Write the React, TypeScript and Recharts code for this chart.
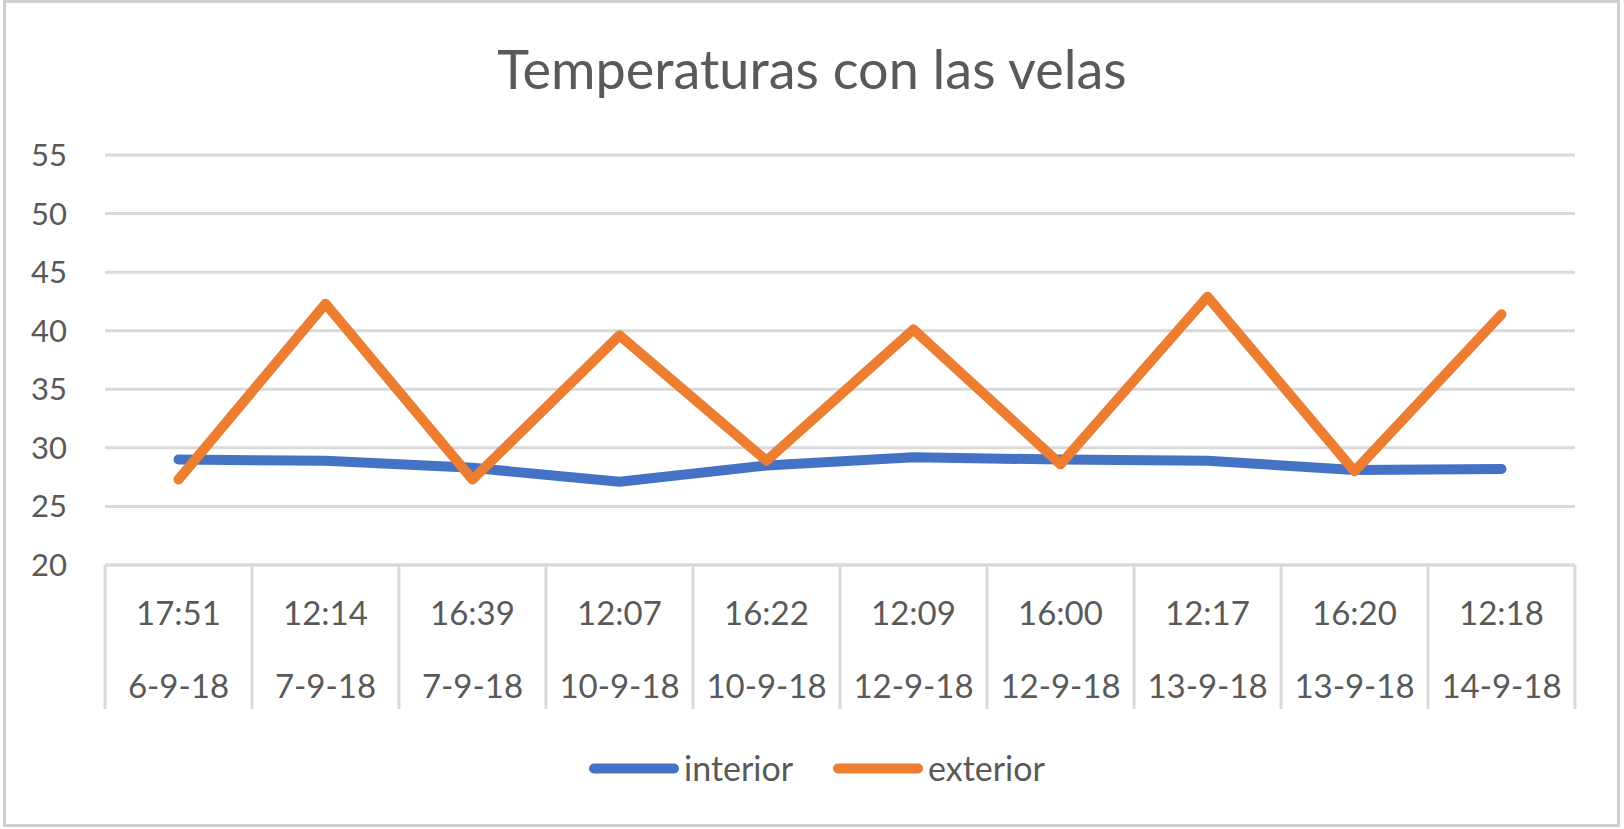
import { LineChart, Line, XAxis, YAxis, CartesianGrid, Legend } from "recharts";

const TIMES = ["17:51", "12:14", "16:39", "12:07", "16:22", "12:09", "16:00", "12:17", "16:20", "12:18"];
const DATES = ["6-9-18", "7-9-18", "7-9-18", "10-9-18", "10-9-18", "12-9-18", "12-9-18", "13-9-18", "13-9-18", "14-9-18"];
const INTERIOR = [29.0, 28.9, 28.3, 27.1, 28.5, 29.2, 29.0, 28.9, 28.1, 28.2];
const EXTERIOR = [27.3, 42.3, 27.3, 39.6, 28.9, 40.1, 28.6, 42.9, 28.0, 41.4];
const Y_TICKS = [20, 25, 30, 35, 40, 45, 50, 55];

const W = 1624;
const H = 829;
const PLOT_LEFT = 105;
const PLOT_RIGHT = 1575;
const FONT = "Lato, 'Open Sans', sans-serif";
const TEXT = "#595959";
const GRID = "#d9d9d9";
const BLUE = "#4472C4";
const ORANGE = "#ED7D31";

const data = TIMES.map((time, i) => ({
  time,
  date: DATES[i],
  interior: INTERIOR[i],
  exterior: EXTERIOR[i],
}));

const half = (PLOT_RIGHT - PLOT_LEFT) / TIMES.length / 2;

function CategoryTick(props: any) {
  const { x, y, index } = props;
  const last = index === TIMES.length - 1;
  return (
    <g>
      <line x1={x - half} x2={x - half} y1={y} y2={y + 144} stroke={GRID} strokeWidth={3} />
      {last && <line x1={x + half} x2={x + half} y1={y} y2={y + 144} stroke={GRID} strokeWidth={3} />}
      <text x={x} y={y + 60} textAnchor="middle" fill={TEXT} fontSize={33} fontFamily={FONT}>
        {TIMES[index]}
      </text>
      <text x={x} y={y + 133} textAnchor="middle" fill={TEXT} fontSize={33} fontFamily={FONT}>
        {DATES[index]}
      </text>
    </g>
  );
}

function LegendContent() {
  const items = [
    { name: "interior", color: BLUE, left: 589 },
    { name: "exterior", color: ORANGE, left: 833 },
  ];
  return (
    <div style={{ position: "relative", height: 40 }}>
      {items.map((it) => (
        <div
          key={it.name}
          style={{
            position: "absolute",
            left: it.left,
            top: 0,
            height: 40,
            display: "flex",
            alignItems: "center",
          }}
        >
          <svg width={90} height={11} style={{ display: "block" }}>
            <line x1={5} x2={85} y1={5.5} y2={5.5} stroke={it.color} strokeWidth={10} strokeLinecap="round" />
          </svg>
          <span style={{ marginLeft: 5, fontFamily: FONT, fontSize: 34, color: TEXT, lineHeight: "40px" }}>
            {it.name}
          </span>
        </div>
      ))}
    </div>
  );
}

export default function App() {
  return (
    <div
      style={{
        position: "fixed",
        left: 0,
        top: 0,
        width: W,
        height: H,
        background: "#fff",
      }}
    >
      <LineChart
        width={W}
        height={H}
        data={data}
        margin={{ top: 155, right: W - PLOT_RIGHT, bottom: 0, left: 0 }}
        style={{ fontFamily: FONT }}
      >
        <CartesianGrid vertical={false} stroke={GRID} strokeWidth={3} />
        <XAxis
          dataKey="time"
          scale="band"
          height={264}
          interval={0}
          tickLine={false}
          tickSize={0}
          tickMargin={0}
          axisLine={{ stroke: GRID, strokeWidth: 3 }}
          tick={<CategoryTick />}
        />
        <YAxis
          width={PLOT_LEFT}
          domain={[20, 55]}
          ticks={Y_TICKS}
          interval={0}
          axisLine={false}
          tickLine={false}
          tickSize={0}
          tickMargin={38}
          tick={{ fill: TEXT, fontSize: 31, fontFamily: FONT }}
        />
        <Legend
          layout="horizontal"
          verticalAlign="middle"
          content={<LegendContent />}
          wrapperStyle={{ top: 748, left: 0, width: W, height: 40 }}
        />
        <Line
          type="linear"
          dataKey="interior"
          name="interior"
          stroke={BLUE}
          strokeWidth={10}
          strokeLinecap="round"
          strokeLinejoin="round"
          dot={false}
          activeDot={false}
          isAnimationActive={false}
        />
        <Line
          type="linear"
          dataKey="exterior"
          name="exterior"
          stroke={ORANGE}
          strokeWidth={10}
          strokeLinecap="round"
          strokeLinejoin="round"
          dot={false}
          activeDot={false}
          isAnimationActive={false}
        />
      </LineChart>
      <svg
        width={W}
        height={H}
        style={{ position: "absolute", left: 0, top: 0, pointerEvents: "none" }}
      >
        <rect x={4.5} y={1.5} width={1614} height={824} fill="none" stroke="#d0d0d0" strokeWidth={3} />
        <text x={812} y={89} textAnchor="middle" fill={TEXT} fontSize={54} fontFamily={FONT}>
          Temperaturas con las velas
        </text>
      </svg>
    </div>
  );
}
